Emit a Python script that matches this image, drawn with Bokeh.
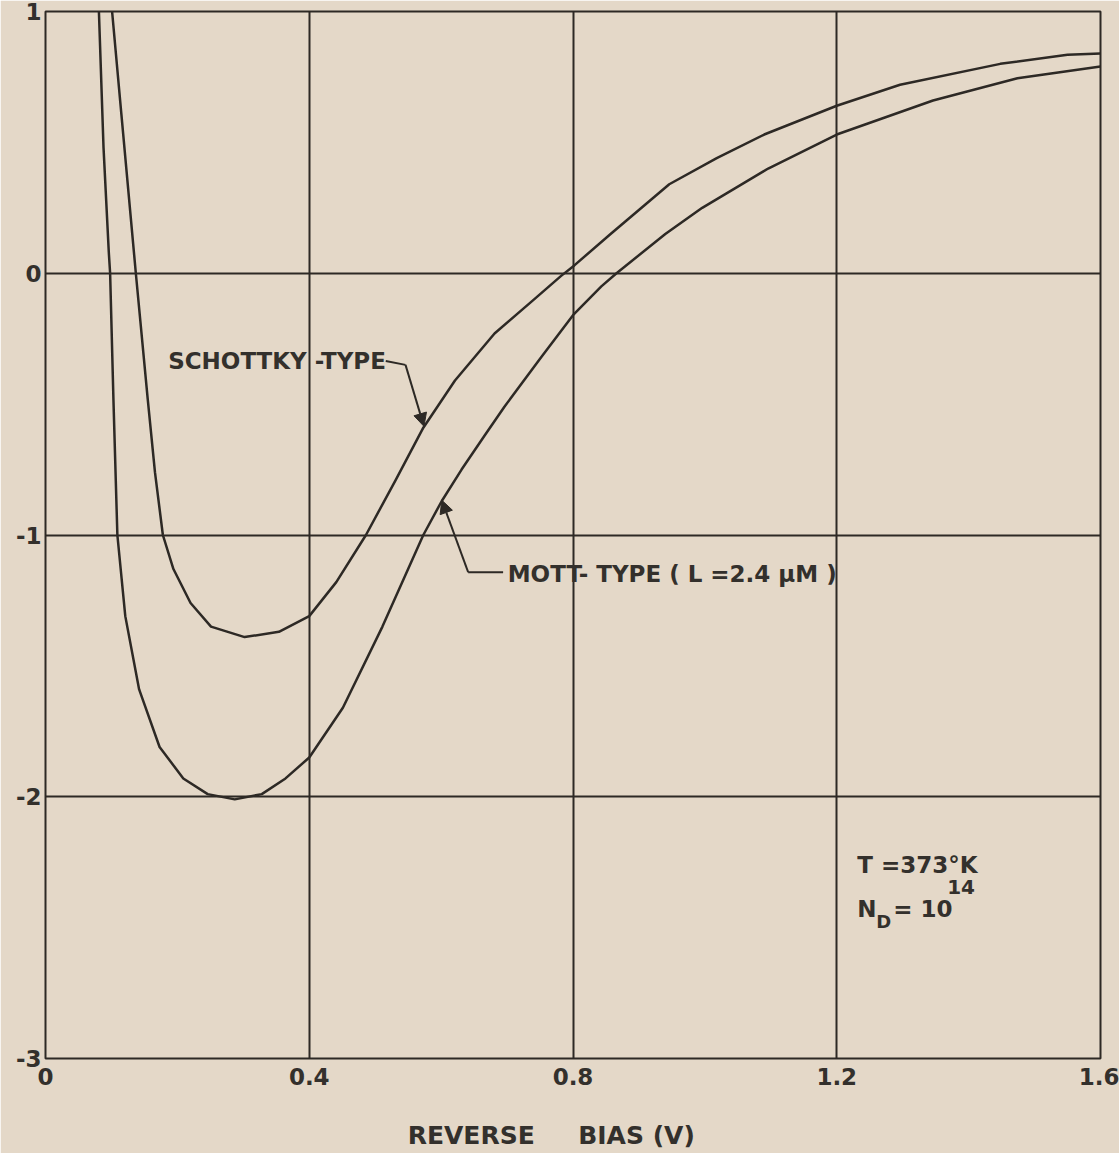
from bokeh.plotting import figure
from bokeh.models import Range1d, FixedTicker, Label, Arrow, NormalHead
from bokeh.embed import file_html
from bokeh.resources import INLINE

# ---- data ----
bias_schottky = [0.101, 0.115, 0.137, 0.155, 0.166, 0.178, 0.194, 0.220, 0.251, 0.302,
                 0.354, 0.400, 0.441, 0.486, 0.531, 0.573, 0.621, 0.681, 0.741, 0.782,
                 0.802, 0.857, 0.946, 1.018, 1.090, 1.200, 1.296, 1.448, 1.550, 1.600]
val_schottky = [1.00, 0.61, 0.00, -0.48, -0.76, -1.00, -1.13, -1.26, -1.35, -1.39,
                -1.37, -1.31, -1.18, -1.00, -0.79, -0.59, -0.41, -0.23, -0.10, -0.01,
                0.03, 0.15, 0.34, 0.44, 0.53, 0.64, 0.72, 0.80, 0.835, 0.84]

bias_mott = [0.081, 0.088, 0.096, 0.098, 0.103, 0.109, 0.121, 0.142, 0.173, 0.209,
             0.246, 0.287, 0.328, 0.364, 0.400, 0.451, 0.511, 0.573, 0.601, 0.631,
             0.666, 0.696, 0.752, 0.800, 0.843, 0.866, 0.940, 0.996, 1.096, 1.200,
             1.346, 1.474, 1.600]
val_mott = [1.00, 0.48, 0.08, 0.00, -0.48, -1.00, -1.31, -1.59, -1.81, -1.93,
            -1.99, -2.01, -1.99, -1.93, -1.85, -1.66, -1.35, -1.00, -0.87, -0.75,
            -0.62, -0.51, -0.32, -0.16, -0.05, 0.00, 0.15, 0.25, 0.40, 0.53,
            0.66, 0.745, 0.79]

x_ticks = [0, 0.4, 0.8, 1.2, 1.6]
y_ticks = [-3, -2, -1, 0, 1]
x_tick_labels = {0: "0", 0.4: "0.4", 0.8: "0.8", 1.2: "1.2", 1.6: "1.6"}
y_tick_labels = {-3: "-3", -2: "-2", -1: "-1", 0: "0", 1: "1"}

# annotation anchors (data units)
schottky_text_pos = (0.186, -0.335)
schottky_leader_x = [0.516, 0.546]
schottky_leader_y = [-0.335, -0.350]
schottky_tip = (0.574, -0.585)

mott_text_pos = (0.701, -1.15)
mott_leader_x = [0.694, 0.641]
mott_leader_y = [-1.142, -1.142]
mott_tip = (0.601, -0.867)

cond_pos = (1.231, -2.26)
nd_pos = (1.231, -2.43)

PAPER = "#e4d8c8"
INK = "#2d2925"
TXT = "#33302c"
FONT = "DejaVu Sans"
NB = "\u00a0"

p = figure(width=1119, height=1153, x_range=Range1d(0, 1.6), y_range=Range1d(-3, 1),
           output_backend="svg", toolbar_location=None,
           min_border_left=45, min_border_right=19, min_border_top=11, min_border_bottom=95)

p.background_fill_color = PAPER
p.border_fill_color = PAPER
p.outline_line_color = INK
p.outline_line_width = 2

p.xaxis.ticker = FixedTicker(ticks=x_ticks)
p.yaxis.ticker = FixedTicker(ticks=y_ticks)
p.xaxis.major_label_overrides = x_tick_labels
p.yaxis.major_label_overrides = y_tick_labels
for ax in (p.xaxis, p.yaxis):
    ax.axis_line_color = None
    ax.major_tick_line_color = None
    ax.minor_tick_line_color = None
    ax.major_tick_out = 0
    ax.major_tick_in = 0
    ax.major_label_text_font = FONT
    ax.major_label_text_font_style = "bold"
    ax.major_label_text_font_size = "23px"
    ax.major_label_text_color = TXT
p.xaxis.major_label_standoff = 9
p.yaxis.major_label_standoff = 4
p.xaxis.axis_label = "REVERSE" + NB * 5 + "BIAS (V)" + NB * 5
p.xaxis.axis_label_text_font = FONT
p.xaxis.axis_label_text_font_style = "bold"
p.xaxis.axis_label_text_font_size = "25px"
p.xaxis.axis_label_text_color = TXT
p.xaxis.axis_label_standoff = 33

p.xgrid.grid_line_color = INK
p.ygrid.grid_line_color = INK
p.xgrid.grid_line_width = 2
p.ygrid.grid_line_width = 2

p.line(bias_schottky, val_schottky, line_color=INK, line_width=2.5, line_join="round")
p.line(bias_mott, val_mott, line_color=INK, line_width=2.5, line_join="round")

# leaders
p.line(schottky_leader_x, schottky_leader_y, line_color=INK, line_width=2)
p.add_layout(Arrow(end=NormalHead(size=13, fill_color=INK, line_color=INK),
                   x_start=schottky_leader_x[-1], y_start=schottky_leader_y[-1],
                   x_end=schottky_tip[0], y_end=schottky_tip[1],
                   line_color=INK, line_width=2))
p.line(mott_leader_x, mott_leader_y, line_color=INK, line_width=2)
p.add_layout(Arrow(end=NormalHead(size=13, fill_color=INK, line_color=INK),
                   x_start=mott_leader_x[-1], y_start=mott_leader_y[-1],
                   x_end=mott_tip[0], y_end=mott_tip[1],
                   line_color=INK, line_width=2))

def lab(x, y, text, size="23px", xo=0, yo=0):
    p.add_layout(Label(x=x, y=y, text=text, x_offset=xo, y_offset=yo,
                       text_font=FONT, text_font_style="bold", text_font_size=size,
                       text_color=TXT, text_baseline="middle", text_align="left"))

lab(*schottky_text_pos, "SCHOTTKY" + NB + "-TYPE")
lab(*mott_text_pos, "MOTT- TYPE ( L =2.4 \u03bcM )")
lab(*cond_pos, "T =373\u00b0K")
lab(*nd_pos, "N")
lab(*nd_pos, "D", size="18px", xo=19, yo=-12)
lab(*nd_pos, "= 10", xo=36)
lab(*nd_pos, "14", size="20px", xo=90, yo=22)

open("out.html", "w").write(file_html(p, INLINE))
